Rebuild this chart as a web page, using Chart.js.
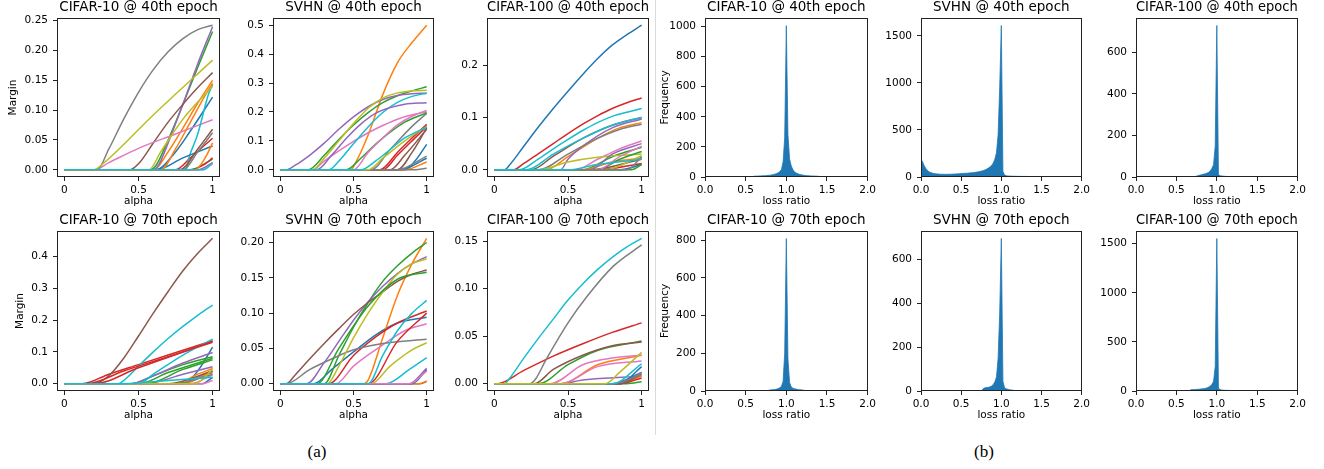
<!DOCTYPE html>
<html><head><meta charset="utf-8">
<script src="https://cdn.jsdelivr.net/npm/chart.js@4.4.1/dist/chart.umd.min.js"></script>
<style>
html,body{margin:0;padding:0;background:#fff;}
#wrap{position:relative;width:1324px;height:469px;overflow:hidden;background:#fff;}
canvas{position:absolute;}
.cap{position:absolute;font-family:'Liberation Serif','Times New Roman',serif;font-size:17px;color:#000;transform:translate(-50%,-50%);white-space:nowrap;}
#sep{position:absolute;left:655px;top:0;width:1px;height:435px;background:#dadada;}
</style></head><body>
<div id="wrap"><div id="sep"></div>
<div class="cap" style="left:317px;top:452px">(a)</div>
<div class="cap" style="left:984px;top:452px">(b)</div>
</div>
<script>
// ---------- tick labels ----------
const alphaTicks = [0, 0.5, 1];
const alphaLabels = ['0', '0.5', '1'];
const ratioTicks = [0, 0.5, 1, 1.5, 2];
const ratioLabels = ['0.0', '0.5', '1.0', '1.5', '2.0'];

// ---------- (a) margin curves: [colour, [[alpha, margin], ...]] ----------
const marginC10E40 = [
  ['blue',   [[0,0],[0.62,0],[0.75,0.03],[0.85,0.065],[1,0.122]]],
  ['orange', [[0,0],[0.6,0],[0.7,0.03],[0.8,0.07],[0.9,0.112],[1,0.15]]],
  ['green',  [[0,0],[0.58,0],[0.62,0.008],[0.7,0.05],[0.8,0.11],[0.9,0.172],[1,0.232]]],
  ['red',    [[0,0],[0.75,0],[0.85,0.02],[1,0.053]]],
  ['purple', [[0,0],[0.6,0],[0.64,0.01],[0.7,0.045],[0.8,0.11],[0.9,0.178],[1,0.24]]],
  ['brown',  [[0,0],[0.44,0],[0.5,0.01],[0.6,0.045],[0.7,0.08],[0.8,0.11],[0.9,0.138],[1,0.163]]],
  ['pink',   [[0,0],[0.2,0],[0.3,0.012],[0.5,0.036],[0.75,0.06],[1,0.084]]],
  ['gray',   [[0,0],[0.22,0],[0.3,0.035],[0.4,0.085],[0.5,0.13],[0.6,0.168],[0.7,0.198],[0.8,0.22],[0.9,0.235],[1,0.2425]]],
  ['olive',  [[0,0],[0.2,0],[0.25,0.008],[0.6,0.092],[1,0.184]]],
  ['cyan',   [[0,0],[0.82,0],[0.84,0.02],[0.9,0.06],[0.97,0.125],[1,0.143]]],
  ['blue',   [[0,0],[0.62,0],[0.8,0.02],[0.9,0.03],[1,0.04]]],
  ['orange', [[0,0],[0.65,0],[0.75,0.035],[0.85,0.08],[0.95,0.125],[1,0.145]]],
  ['green',  [[0,0],[0.85,0],[1,0.018]]],
  ['red',    [[0,0],[0.85,0],[0.95,0.01],[1,0.02]]],
  ['purple', [[0,0],[0.9,0],[1,0.012]]],
  ['brown',  [[0,0],[0.78,0],[0.9,0.035],[1,0.068]]],
  ['pink',   [[0,0],[0.93,0],[1,0.01]]],
  ['gray',   [[0,0],[0.8,0],[0.9,0.03],[1,0.062]]],
  ['olive',  [[0,0],[0.57,0],[0.65,0.03],[0.8,0.085],[1,0.14]]],
  ['orange', [[0,0],[0.88,0],[0.95,0.02],[1,0.045]]],
  ['cyan',   [[0,0],[0.94,0],[1,0.012]]]
];
const marginSvhnE40 = [
  ['blue',   [[0,0],[0.85,0],[0.92,0.03],[1,0.088]]],
  ['orange', [[0,0],[0.48,0],[0.52,0.03],[0.6,0.12],[0.7,0.26],[0.8,0.37],[0.9,0.44],[1,0.5]]],
  ['green',  [[0,0],[0.19,0],[0.3,0.05],[0.4,0.105],[0.5,0.155],[0.6,0.198],[0.7,0.232],[0.8,0.256],[0.9,0.273],[1,0.287]]],
  ['red',    [[0,0],[0.68,0],[0.8,0.06],[0.9,0.11],[1,0.157]]],
  ['purple', [[0,0],[0.04,0],[0.1,0.015],[0.2,0.05],[0.3,0.092],[0.4,0.14],[0.5,0.183],[0.6,0.218],[0.7,0.243],[0.8,0.257],[0.9,0.263],[1,0.265]]],
  ['brown',  [[0,0],[0.75,0],[0.85,0.05],[1,0.14]]],
  ['pink',   [[0,0],[0.22,0],[0.3,0.03],[0.4,0.065],[0.5,0.098],[0.6,0.128],[0.7,0.153],[0.8,0.175],[0.9,0.19],[1,0.2]]],
  ['gray',   [[0,0],[0.62,0],[0.75,0.07],[0.9,0.15],[1,0.195]]],
  ['olive',  [[0,0],[0.22,0],[0.3,0.04],[0.4,0.1],[0.5,0.16],[0.6,0.213],[0.7,0.248],[0.8,0.266],[0.9,0.273],[1,0.275]]],
  ['cyan',   [[0,0],[0.33,0],[0.4,0.03],[0.5,0.09],[0.6,0.148],[0.7,0.198],[0.8,0.233],[0.9,0.254],[1,0.265]]],
  ['blue',   [[0,0],[0.82,0],[1,0.04]]],
  ['orange', [[0,0],[0.85,0],[1,0.027]]],
  ['green',  [[0,0],[0.45,0],[0.55,0.04],[0.65,0.088],[0.75,0.13],[0.85,0.165],[1,0.197]]],
  ['red',    [[0,0],[0.7,0],[0.8,0.05],[0.9,0.1],[1,0.15]]],
  ['purple', [[0,0],[0.25,0],[0.35,0.05],[0.45,0.108],[0.55,0.158],[0.65,0.195],[0.75,0.215],[0.85,0.227],[1,0.232]]],
  ['brown',  [[0,0],[0.8,0],[0.9,0.06],[1,0.145]]],
  ['pink',   [[0,0],[0.5,0],[0.6,0.06],[0.7,0.11],[0.8,0.155],[0.9,0.185],[1,0.205]]],
  ['gray',   [[0,0],[0.8,0],[1,0.047]]],
  ['gray',   [[0,0],[0.9,0],[1,0.005]]],
  ['olive',  [[0,0],[0.6,0],[0.7,0.04],[0.85,0.1],[1,0.15]]],
  ['cyan',   [[0,0],[0.55,0],[0.65,0.03],[0.75,0.07],[0.85,0.11],[1,0.147]]]
];
const marginC100E40 = [
  ['blue',   [[0,0],[0.07,0],[0.1,0.008],[0.2,0.045],[0.3,0.082],[0.4,0.117],[0.5,0.15],[0.6,0.182],[0.7,0.212],[0.8,0.238],[0.9,0.258],[1,0.276]]],
  ['orange', [[0,0],[0.35,0],[0.5,0.025],[0.7,0.06],[0.85,0.08],[1,0.09]]],
  ['green',  [[0,0],[0.6,0],[0.8,0.025],[1,0.043]]],
  ['red',    [[0,0],[0.13,0],[0.2,0.012],[0.3,0.031],[0.4,0.05],[0.5,0.069],[0.6,0.087],[0.7,0.103],[0.8,0.117],[0.9,0.128],[1,0.137]]],
  ['purple', [[0,0],[0.45,0],[0.5,0.02],[0.6,0.045],[0.8,0.08],[1,0.097]]],
  ['brown',  [[0,0],[0.25,0],[0.4,0.026],[0.6,0.06],[0.8,0.085],[1,0.1]]],
  ['pink',   [[0,0],[0.55,0],[0.7,0.02],[0.85,0.04],[1,0.055]]],
  ['gray',   [[0,0],[0.3,0],[0.5,0.03],[0.7,0.06],[0.85,0.077],[1,0.087]]],
  ['olive',  [[0,0],[0.3,0],[0.5,0.015],[0.7,0.024],[1,0.03]]],
  ['cyan',   [[0,0],[0.17,0],[0.3,0.021],[0.4,0.04],[0.5,0.058],[0.6,0.075],[0.7,0.09],[0.8,0.102],[0.9,0.11],[1,0.117]]],
  ['blue',   [[0,0],[0.85,0],[1,0.01]]],
  ['orange', [[0,0],[0.6,0],[0.8,0.015],[1,0.022]]],
  ['green',  [[0,0],[0.7,0],[0.85,0.02],[1,0.035]]],
  ['red',    [[0,0],[0.7,0],[1,0.012]]],
  ['purple', [[0,0],[0.65,0],[0.8,0.03],[1,0.05]]],
  ['brown',  [[0,0],[0.65,0],[1,0.02]]],
  ['pink',   [[0,0],[0.7,0],[0.85,0.025],[1,0.045]]],
  ['olive',  [[0,0],[0.75,0],[1,0.027]]],
  ['cyan',   [[0,0],[0.22,0],[0.4,0.03],[0.6,0.06],[0.8,0.085],[1,0.1]]],
  ['green',  [[0,0],[0.93,0],[1,0.01]]],
  ['gray',   [[0,0],[0.9,0],[1,0.025]]],
  ['cyan',   [[0,0],[0.5,0],[0.7,0.01],[1,0.02]]]
];
const marginC10E70 = [
  ['blue',   [[0,0],[0.8,0],[0.9,0.04],[1,0.115]]],
  ['orange', [[0,0],[0.75,0],[0.9,0.03],[1,0.048]]],
  ['green',  [[0,0],[0.45,0],[0.6,0.025],[0.8,0.06],[1,0.085]]],
  ['red',    [[0,0],[0.12,0],[0.3,0.03],[0.5,0.06],[0.7,0.09],[1,0.135]]],
  ['purple', [[0,0],[0.45,0],[0.6,0.025],[0.8,0.065],[1,0.098]]],
  ['brown',  [[0,0],[0.2,0],[0.3,0.025],[0.4,0.08],[0.5,0.15],[0.6,0.222],[0.7,0.29],[0.8,0.355],[0.9,0.41],[1,0.457]]],
  ['gray',   [[0,0],[0.78,0],[0.9,0.02],[1,0.035]]],
  ['cyan',   [[0,0],[0.36,0],[0.4,0.01],[0.5,0.055],[0.6,0.1],[0.7,0.142],[0.8,0.18],[0.9,0.215],[1,0.247]]],
  ['blue',   [[0,0],[0.93,0],[1,0.02]]],
  ['orange', [[0,0],[0.8,0],[1,0.04]]],
  ['green',  [[0,0],[0.5,0],[0.7,0.035],[1,0.08]]],
  ['red',    [[0,0],[0.15,0],[0.4,0.04],[0.7,0.085],[1,0.13]]],
  ['purple', [[0,0],[0.55,0],[0.8,0.03],[1,0.053]]],
  ['brown',  [[0,0],[0.7,0],[1,0.04]]],
  ['pink',   [[0,0],[0.85,0],[1,0.028]]],
  ['gray',   [[0,0],[0.75,0],[1,0.03]]],
  ['green',  [[0,0],[0.55,0],[0.8,0.045],[1,0.075]]],
  ['cyan',   [[0,0],[0.5,0],[0.6,0.03],[0.8,0.09],[1,0.14]]],
  ['red',    [[0,0],[0.2,0],[0.5,0.05],[1,0.133]]],
  ['pink',   [[0,0],[0.93,0],[1,0.01]]],
  ['olive',  [[0,0],[0.88,0],[1,0.045]]],
  ['cyan',   [[0,0],[0.4,0],[0.7,0.01],[1,0.02]]]
];
const marginSvhnE70 = [
  ['blue',   [[0,0],[0.23,0],[0.35,0.02],[0.5,0.045],[0.65,0.069],[0.8,0.086],[1,0.094]]],
  ['orange', [[0,0],[0.57,0],[0.6,0.005],[0.7,0.065],[0.8,0.125],[0.9,0.17],[1,0.206]]],
  ['green',  [[0,0],[0.3,0],[0.4,0.04],[0.5,0.08],[0.6,0.115],[0.7,0.145],[0.8,0.167],[0.9,0.185],[1,0.2]]],
  ['red',    [[0,0],[0.33,0],[0.5,0.04],[0.65,0.066],[0.8,0.086],[1,0.103]]],
  ['purple', [[0,0],[0.18,0],[0.3,0.03],[0.4,0.06],[0.5,0.09],[0.6,0.116],[0.7,0.138],[0.8,0.156],[0.9,0.17],[1,0.18]]],
  ['brown',  [[0,0],[0.04,0],[0.1,0.012],[0.2,0.035],[0.3,0.057],[0.4,0.078],[0.5,0.098],[0.6,0.115],[0.7,0.13],[0.8,0.145],[0.9,0.155],[1,0.161]]],
  ['pink',   [[0,0],[0.38,0],[0.5,0.025],[0.7,0.055],[0.85,0.075],[1,0.085]]],
  ['gray',   [[0,0],[0.04,0],[0.2,0.02],[0.35,0.035],[0.5,0.048],[0.7,0.057],[1,0.063]]],
  ['olive',  [[0,0],[0.32,0],[0.4,0.025],[0.5,0.065],[0.6,0.1],[0.7,0.13],[0.8,0.155],[0.9,0.17],[1,0.177]]],
  ['green',  [[0,0],[0.25,0],[0.4,0.05],[0.6,0.11],[0.8,0.148],[1,0.158]]],
  ['red',    [[0,0],[0.6,0],[0.8,0.06],[1,0.1]]],
  ['olive',  [[0,0],[0.62,0],[0.75,0.025],[0.9,0.048],[1,0.058]]],
  ['cyan',   [[0,0],[0.72,0],[0.88,0.02],[1,0.037]]],
  ['brown',  [[0,0],[0.95,0],[1,0.003]]],
  ['orange', [[0,0],[0.95,0],[1,0.004]]],
  ['blue',   [[0,0],[0.9,0],[1,0.02]]],
  ['purple', [[0,0],[0.88,0],[1,0.022]]],
  ['pink',   [[0,0],[0.88,0],[1,0.018]]],
  ['cyan',   [[0,0],[0.6,0],[0.7,0.04],[0.8,0.075],[0.9,0.1],[1,0.118]]]
];
const marginC100E70 = [
  ['blue',   [[0,0],[0.85,0],[1,0.018]]],
  ['orange', [[0,0],[0.45,0],[0.7,0.02],[1,0.03]]],
  ['green',  [[0,0],[0.3,0],[0.5,0.02],[0.7,0.035],[1,0.045]]],
  ['red',    [[0,0],[0.02,0],[0.2,0.014],[0.4,0.029],[0.6,0.042],[0.8,0.054],[1,0.064]]],
  ['purple', [[0,0],[0.45,0],[0.6,0.004],[1,0.008]]],
  ['brown',  [[0,0],[0.27,0],[0.4,0.015],[0.6,0.03],[0.8,0.04],[1,0.044]]],
  ['pink',   [[0,0],[0.38,0],[0.6,0.02],[0.8,0.027],[1,0.03]]],
  ['gray',   [[0,0],[0.24,0],[0.28,0.005],[0.35,0.025],[0.5,0.064],[0.63,0.092],[0.81,0.124],[1,0.146]]],
  ['cyan',   [[0,0],[0.07,0],[0.1,0.005],[0.2,0.027],[0.3,0.048],[0.4,0.068],[0.5,0.088],[0.6,0.105],[0.7,0.12],[0.8,0.133],[0.9,0.144],[1,0.153]]],
  ['blue',   [[0,0],[0.8,0],[1,0.012]]],
  ['orange', [[0,0],[0.85,0],[1,0.008]]],
  ['green',  [[0,0],[0.9,0],[1,0.002]]],
  ['red',    [[0,0],[0.85,0],[1,0.006]]],
  ['purple', [[0,0],[0.85,0],[1,0.012]]],
  ['brown',  [[0,0],[0.85,0],[1,0.01]]],
  ['pink',   [[0,0],[0.45,0],[0.7,0.018],[1,0.024]]],
  ['gray',   [[0,0],[0.8,0],[1,0.01]]],
  ['cyan',   [[0,0],[0.8,0],[1,0.021]]],
  ['olive',  [[0,0],[0.75,0],[0.85,0.012],[1,0.033]]]
];

// ---------- (b) loss-ratio histograms: first bin centre + count per 0.02-wide bin ----------
const HIST_BIN = 0.02;
const histC10E40Start = 0.60;
const histC10E40 = [5,6,6,7,7,8,8,9,10,11,12,14,16,19,23,28,36,50,100,260,1005,280,120,75,50,35,27,22,18,15,13,11,10,9,8,7,7,6,6,5,5];
const histSvhnE40Start = 0.00;
const histSvhnE40 = [190,160,120,90,70,55,48,42,38,35,33,31,30,29,29,28,29,29,30,30,31,32,33,34,35,37,38,39,40,41,43,44,46,48,50,53,56,60,65,70,77,85,95,108,125,150,190,260,450,960,1610,60,20,14,11,10,9,8,8,7,7,7,6,6,6,6,5,5,5,5,5,5,4,4,4,4,4,4,4,4,3,3,3,3,3,3,3];
const histC100E40Start = 0.74;
const histC100E40 = [3,6,8,10,12,14,16,19,23,30,42,60,150,730,12,6,5,4,3,3,2,1];
const histC10E70Start = 0.78;
const histC10E70 = [4,5,6,7,8,10,13,17,25,50,200,808,170,45,22,15,12,10,8,7,6,5,4];
const histSvhnE70Start = 0.76;
const histSvhnE70 = [5,12,15,16,17,19,23,30,42,65,150,360,697,45,15,10,8,6,5,4,2];
const histC100E70Start = 0.66;
const histC100E70 = [5,12,14,15,16,17,18,20,22,24,27,32,40,50,68,100,250,1552,30,14,10,8,7,6,6,5,5,4,4,3,2];

// ---------- y ticks ----------
const yTicksC10E40 = [0,0.05,0.1,0.15,0.2,0.25], yLabC10E40 = ['0.00','0.05','0.10','0.15','0.20','0.25'];
const yTicksSvhnE40 = [0,0.1,0.2,0.3,0.4,0.5], yLabSvhnE40 = ['0.0','0.1','0.2','0.3','0.4','0.5'];
const yTicksC100E40 = [0,0.1,0.2], yLabC100E40 = ['0.0','0.1','0.2'];
const yTicksC10E70 = [0,0.1,0.2,0.3,0.4], yLabC10E70 = ['0.0','0.1','0.2','0.3','0.4'];
const yTicksSvhnE70 = [0,0.05,0.1,0.15,0.2], yLabSvhnE70 = ['0.00','0.05','0.10','0.15','0.20'];
const yTicksC100E70 = [0,0.05,0.1,0.15], yLabC100E70 = ['0.00','0.05','0.10','0.15'];
const fTicksC10E40 = [0,200,400,600,800,1000];
const fTicksSvhnE40 = [0,500,1000,1500];
const fTicksC100E40 = [0,200,400,600];
const fTicksC10E70 = [0,200,400,600,800];
const fTicksSvhnE70 = [0,200,400,600];
const fTicksC100E70 = [0,500,1000,1500];

// ---------- rendering ----------
const TAB = {blue:'#1f77b4', orange:'#ff7f0e', green:'#2ca02c', red:'#d62728', purple:'#9467bd',
             brown:'#8c564b', pink:'#e377c2', gray:'#7f7f7f', olive:'#bcbd22', cyan:'#17becf'};
Chart.defaults.font.family = "'DejaVu Sans', sans-serif";
Chart.defaults.font.size = 10.5;
Chart.defaults.color = '#000';
const TITLE_H = 18, X_AXIS_H = 31, AXIS_COL = '#222';

const boxPlugin = {id:'box', afterDraw(chart){
  const a = chart.chartArea, ctx = chart.ctx;
  const l = Math.round(a.left), t = Math.round(a.top), r = Math.round(a.right), b = Math.round(a.bottom);
  ctx.save(); ctx.strokeStyle = AXIS_COL; ctx.lineWidth = 1;
  ctx.strokeRect(l + 0.5, t + 0.5, r - l - 1, b - t - 1); ctx.restore();
}};

function lineSets(series){
  return series.slice().reverse().map(([c, pts]) => ({
    data: pts.map(([x, y]) => ({x, y})), borderColor: TAB[c], borderWidth: 1.5,
    pointRadius: 0, fill: false, cubicInterpolationMode: 'monotone'
  }));
}
function histSets(start, counts){
  return [{
    data: counts.map((v, i) => ({x: Math.round((start + i * HIST_BIN) * 1000) / 1000, y: v})),
    backgroundColor: TAB.blue, borderColor: TAB.blue, borderWidth: 0.8,
    pointRadius: 0, fill: 'origin', tension: 0
  }];
}

function addPanel(o){
  const w = o.yW + o.boxW + o.rightPad, h = TITLE_H + o.boxH + X_AXIS_H;
  const c = document.createElement('canvas');
  c.width = w; c.height = h;
  c.style.left = (o.L - o.yW) + 'px'; c.style.top = (o.T - TITLE_H) + 'px';
  document.getElementById('wrap').appendChild(c);
  new Chart(c, {
    type: 'line',
    data: {datasets: o.datasets},
    options: {
      responsive: false, animation: false, events: [],
      layout: {padding: {left: 0, top: 0, right: o.rightPad, bottom: 0}},
      plugins: {
        legend: {display: false}, tooltip: {enabled: false},
        title: {display: true, text: o.title, fullSize: false, color: '#000',
                font: {size: 13.5, weight: 'normal', lineHeight: '14px'}, padding: {top: 0, bottom: 4}}
      },
      scales: {
        x: {type: 'linear', min: o.xMin, max: o.xMax, offset: false, bounds: 'data',
            afterBuildTicks: s => { s.ticks = o.xTicks.map(v => ({value: v})); },
            afterFit: s => { s.height = X_AXIS_H; },
            ticks: {autoSkip: false, maxRotation: 0, padding: 3, callback: (v, i) => o.xLabels[i]},
            grid: {drawOnChartArea: false, drawTicks: true, tickLength: 4, color: AXIS_COL, offset: false},
            border: {display: false},
            title: {display: true, text: o.xTitle, padding: 0, font: {size: 10.5}}},
        y: {type: 'linear', min: o.yMin, max: o.yMax, bounds: 'data',
            afterBuildTicks: s => { s.ticks = o.yTicks.map(v => ({value: v})); },
            afterFit: s => { s.width = o.yW; },
            ticks: {autoSkip: false, padding: 5, callback: (v, i) => o.yLabels[i]},
            grid: {drawOnChartArea: false, drawTicks: true, tickLength: 4, color: AXIS_COL},
            border: {display: false},
            title: {display: !!o.yTitle, text: o.yTitle || '', padding: 0, font: {size: 10.5}}}
      }
    },
    plugins: [boxPlugin]
  });
}

const lineBase = {xMin: -0.05, xMax: 1.05, xTicks: alphaTicks, xLabels: alphaLabels, xTitle: 'alpha', rightPad: 6};
const histBase = {xMin: 0, xMax: 2, xTicks: ratioTicks, xLabels: ratioLabels, xTitle: 'loss ratio', yMin: 0, rightPad: 10};
const fmt = a => a.map(String);

addPanel({...lineBase, L: 57, T: 18, boxW: 163, boxH: 159, yW: 50, title: 'CIFAR-10 @ 40th epoch', yTitle: 'Margin',
  yMin: -0.0121, yMax: 0.2546, yTicks: yTicksC10E40, yLabels: yLabC10E40, datasets: lineSets(marginC10E40)});
addPanel({...lineBase, L: 273, T: 18, boxW: 161, boxH: 159, yW: 40, title: 'SVHN @ 40th epoch',
  yMin: -0.025, yMax: 0.525, yTicks: yTicksSvhnE40, yLabels: yLabSvhnE40, datasets: lineSets(marginSvhnE40)});
addPanel({...lineBase, L: 487, T: 18, boxW: 162, boxH: 159, yW: 40, title: 'CIFAR-100 @ 40th epoch',
  yMin: -0.0138, yMax: 0.2898, yTicks: yTicksC100E40, yLabels: yLabC100E40, datasets: lineSets(marginC100E40)});
addPanel({...lineBase, L: 57, T: 231, boxW: 163, boxH: 160, yW: 43, title: 'CIFAR-10 @ 70th epoch', yTitle: 'Margin',
  yMin: -0.0229, yMax: 0.48, yTicks: yTicksC10E70, yLabels: yLabC10E70, datasets: lineSets(marginC10E70)});
addPanel({...lineBase, L: 273, T: 231, boxW: 161, boxH: 160, yW: 40, title: 'SVHN @ 70th epoch',
  yMin: -0.0103, yMax: 0.2163, yTicks: yTicksSvhnE70, yLabels: yLabSvhnE70, datasets: lineSets(marginSvhnE70)});
addPanel({...lineBase, L: 487, T: 231, boxW: 162, boxH: 160, yW: 40, title: 'CIFAR-100 @ 70th epoch',
  yMin: -0.00765, yMax: 0.1607, yTicks: yTicksC100E70, yLabels: yLabC100E70, datasets: lineSets(marginC100E70)});

addPanel({...histBase, L: 705, T: 18, boxW: 164, boxH: 159, yW: 46, title: 'CIFAR-10 @ 40th epoch', yTitle: 'Frequency',
  yMax: 1056, yTicks: fTicksC10E40, yLabels: fmt(fTicksC10E40), datasets: histSets(histC10E40Start, histC10E40)});
addPanel({...histBase, L: 921, T: 18, boxW: 162, boxH: 159, yW: 40, title: 'SVHN @ 40th epoch',
  yMax: 1690, yTicks: fTicksSvhnE40, yLabels: fmt(fTicksSvhnE40), datasets: histSets(histSvhnE40Start, histSvhnE40)});
addPanel({...histBase, L: 1136, T: 18, boxW: 163, boxH: 159, yW: 36, title: 'CIFAR-100 @ 40th epoch',
  yMax: 766, yTicks: fTicksC100E40, yLabels: fmt(fTicksC100E40), datasets: histSets(histC100E40Start, histC100E40)});
addPanel({...histBase, L: 705, T: 231, boxW: 164, boxH: 160, yW: 46, title: 'CIFAR-10 @ 70th epoch', yTitle: 'Frequency',
  yMax: 848, yTicks: fTicksC10E70, yLabels: fmt(fTicksC10E70), datasets: histSets(histC10E70Start, histC10E70)});
addPanel({...histBase, L: 921, T: 231, boxW: 162, boxH: 160, yW: 36, title: 'SVHN @ 70th epoch',
  yMax: 731, yTicks: fTicksSvhnE70, yLabels: fmt(fTicksSvhnE70), datasets: histSets(histSvhnE70Start, histSvhnE70)});
addPanel({...histBase, L: 1136, T: 231, boxW: 163, boxH: 160, yW: 40, title: 'CIFAR-100 @ 70th epoch',
  yMax: 1629, yTicks: fTicksC100E70, yLabels: fmt(fTicksC100E70), datasets: histSets(histC100E70Start, histC100E70)});
</script></body></html>
